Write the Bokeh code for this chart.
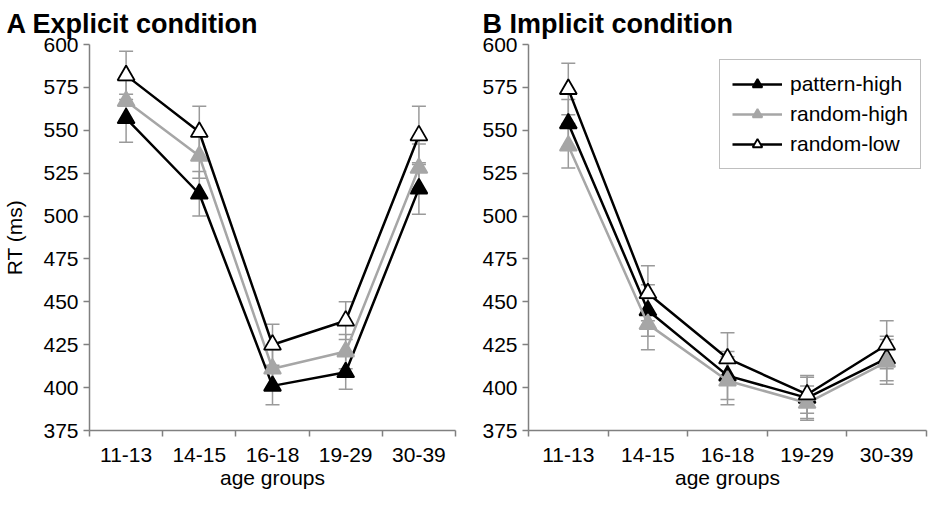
from bokeh.plotting import figure
from bokeh.models import (ColumnDataSource, Whisker, TeeHead, FixedTicker,
                          Legend, LegendItem, Range1d)
from bokeh.layouts import row
from bokeh.embed import file_html
from bokeh.resources import INLINE

age_groups = ["11-13", "14-15", "16-18", "19-29", "30-39"]
y_ticks = [375, 400, 425, 450, 475, 500, 525, 550, 575, 600]
series_names = ["pattern-high", "random-high", "random-low"]

explicit_pattern_high = [557, 513, 401, 409, 516]
explicit_random_high = [567, 535, 411, 421, 528]
explicit_random_low = [582, 549, 425, 439, 547]
explicit_err_pattern_high = [14, 13, 11, 10, 15]
explicit_err_random_high = [12, 13, 11, 10, 14]
explicit_err_random_low = [14, 15, 12, 11, 17]

implicit_pattern_high = [554, 445, 407, 394, 417]
implicit_random_high = [541, 437, 404, 391, 415]
implicit_random_low = [574, 455, 417, 396, 425]
implicit_err_pattern_high = [14, 15, 14, 12, 13]
implicit_err_random_high = [13, 15, 14, 10, 13]
implicit_err_random_low = [15, 16, 15, 11, 14]

FONT = "Liberation Sans"
AXIS_GRAY = "#808080"
ERR_GRAY = "#9a9a9a"
STYLES = [
    dict(line_color="black", fill_color="black", marker_line="black"),
    dict(line_color="#a6a6a6", fill_color="#a6a6a6", marker_line="#a6a6a6"),
    dict(line_color="black", fill_color="white", marker_line="black"),
]


def make_panel(title, values, errors, width, left, right, ylabel,
               title_offset, legend_loc=None):
    p = figure(width=width, height=494, x_range=Range1d(0.5, 5.5),
               y_range=Range1d(375, 600), output_backend="svg",
               toolbar_location=None, min_border_left=left,
               min_border_right=right, min_border_top=44, min_border_bottom=64)
    p.outline_line_color = None
    p.xgrid.visible = False
    p.ygrid.visible = False
    p.background_fill_color = "white"

    p.title.text = title
    p.title.text_font = FONT
    p.title.text_font_size = "27px"
    p.title.text_font_style = "bold"
    p.title.text_color = "black"
    p.title.align = "left"
    p.title.offset = title_offset
    p.title.standoff = 12

    xs = list(range(1, len(age_groups) + 1))
    p.xaxis.ticker = FixedTicker(ticks=xs, minor_ticks=[x - 0.5 for x in xs] + [xs[-1] + 0.5])
    p.xaxis.major_label_overrides = {x: g for x, g in zip(xs, age_groups)}
    p.xaxis.major_tick_line_color = None
    p.xaxis.minor_tick_line_color = AXIS_GRAY
    p.xaxis.minor_tick_line_width = 1.5
    p.xaxis.minor_tick_in = 0
    p.xaxis.minor_tick_out = 6
    p.xaxis.major_label_standoff = 11
    p.xaxis.axis_label = "age groups"
    p.xaxis.axis_label_standoff = 1

    p.yaxis.ticker = FixedTicker(ticks=y_ticks)
    p.yaxis.major_tick_in = 0
    p.yaxis.major_tick_out = 6
    p.yaxis.major_tick_line_color = AXIS_GRAY
    p.yaxis.major_tick_line_width = 1.5
    p.yaxis.minor_tick_line_color = None
    p.yaxis.major_label_standoff = 5
    if ylabel:
        p.yaxis.axis_label = ylabel
        p.yaxis.axis_label_standoff = 14

    for ax in (p.xaxis, p.yaxis):
        ax.axis_line_color = AXIS_GRAY
        ax.axis_line_width = 1.5
        ax.major_label_text_font = FONT
        ax.major_label_text_font_size = "21px"
        ax.major_label_text_color = "black"
        ax.axis_label_text_font = FONT
        ax.axis_label_text_font_size = "21px"
        ax.axis_label_text_font_style = "normal"
        ax.axis_label_text_color = "black"

    sources = []
    for vals, errs in zip(values, errors):
        src = ColumnDataSource(dict(
            x=xs, y=vals,
            upper=[v + e for v, e in zip(vals, errs)],
            lower=[v - e for v, e in zip(vals, errs)]))
        w = Whisker(base="x", upper="upper", lower="lower", source=src,
                    line_color=ERR_GRAY, line_width=1.5,
                    upper_head=TeeHead(size=14, line_color=ERR_GRAY, line_width=1.5),
                    lower_head=TeeHead(size=14, line_color=ERR_GRAY, line_width=1.5))
        p.add_layout(w)
        sources.append(src)

    legend_items = []
    for name, src, st in zip(series_names, sources, STYLES):
        ln = p.line("x", "y", source=src, line_color=st["line_color"], line_width=2.5)
        sc = p.scatter("x", "y", source=src, marker="triangle", size=17,
                       fill_color=st["fill_color"], line_color=st["marker_line"],
                       line_width=1.8)
        legend_items.append(LegendItem(label=name, renderers=[ln, sc]))

    if legend_loc is not None:
        lg = Legend(items=legend_items, location=legend_loc,
                    label_text_font=FONT, label_text_font_size="21px",
                    label_text_color="black", glyph_width=50, glyph_height=24,
                    label_height=24, label_standoff=8,
                    spacing=6, padding=12,
                    border_line_color=AXIS_GRAY, border_line_width=1.5,
                    background_fill_color="white", margin=0)
        p.add_layout(lg)
    return p


pa = make_panel("A Explicit condition",
                [explicit_pattern_high, explicit_random_high, explicit_random_low],
                [explicit_err_pattern_high, explicit_err_random_high, explicit_err_random_low],
                width=470, left=88, right=15, ylabel="RT (ms)", title_offset=-83)
pb = make_panel("B Implicit condition",
                [implicit_pattern_high, implicit_random_high, implicit_random_low],
                [implicit_err_pattern_high, implicit_err_random_high, implicit_err_random_low],
                width=459, left=58, right=3, ylabel=None, title_offset=-46,
                legend_loc=(191, 261))

layout = row(pa, pb)
open("out.html", "w").write(file_html(layout, INLINE))
